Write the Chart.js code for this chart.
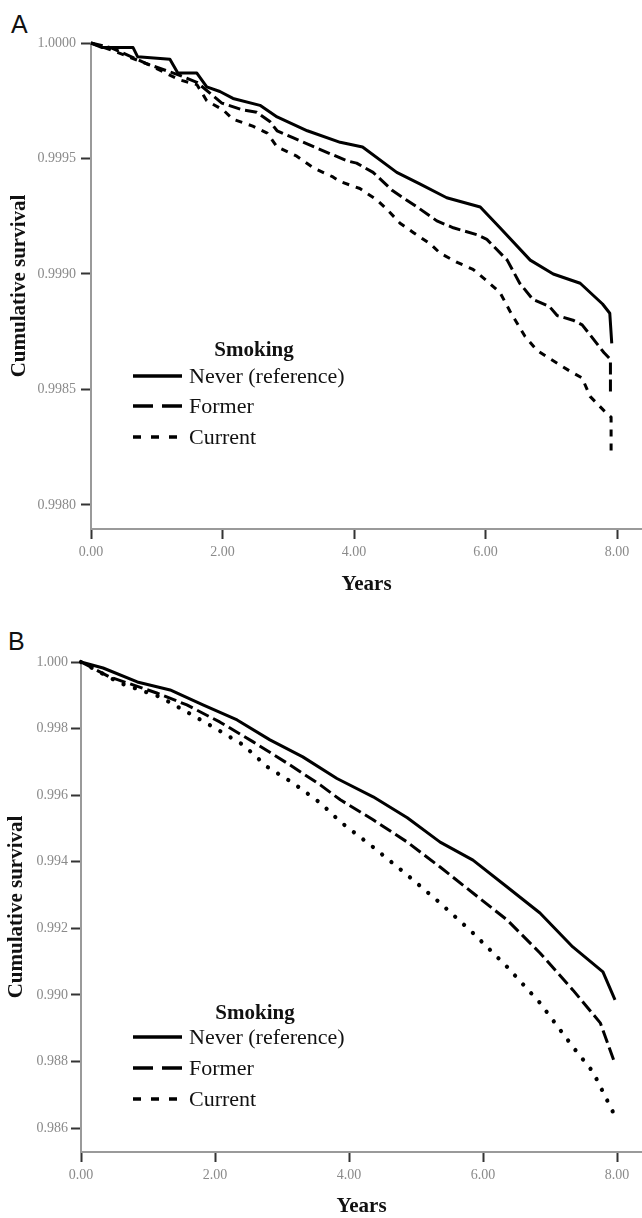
<!DOCTYPE html>
<html>
<head>
<meta charset="utf-8">
<script src="https://cdn.jsdelivr.net/npm/chart.js@4/dist/chart.umd.min.js"></script>
<style>
  html, body { margin:0; padding:0; background:#fff; }
  body { width:642px; height:1218px; position:relative; overflow:hidden; font-family:"Liberation Serif","Times New Roman",serif; }
  .panel { position:absolute; left:0; width:642px; }
  .plabel { position:absolute; font-family:"Liberation Sans",Arial,sans-serif; font-size:25px; line-height:25px; color:#111; }
  .legend { position:absolute; color:#111; }
  .legend .ttl { position:absolute; font-weight:bold; font-size:21px; line-height:21px; white-space:nowrap; transform:translate(-50%,-50%); }
  .legend .row { position:absolute; white-space:nowrap; font-size:22px; line-height:22px; transform:translateY(-50%); }
  .legend svg { position:absolute; overflow:visible; }
</style>
</head>
<body>
<div class="plabel" style="left:11px;top:12px;">A</div>
<div class="plabel" style="left:8px;top:629px;">B</div>
<div class="panel" style="top:0;height:600px;"><canvas id="cA" width="642" height="600"></canvas></div>
<div class="panel" style="top:600px;height:618px;"><canvas id="cB" width="642" height="618"></canvas></div>
<div id="legA" class="legend"></div>
<div id="legB" class="legend"></div>
<script>
// ---------- DATA ----------
const seriesNames = ['Never (reference)', 'Former', 'Current'];
const legendTitle = 'Smoking';
const xTitle = 'Years';
const yTitle = 'Cumulative survival';
const xTickValues = [0, 2, 4, 6, 8];
const yTickValuesA = [1.0000, 0.9995, 0.9990, 0.9985, 0.9980];
const yTickValuesB = [1.000, 0.998, 0.996, 0.994, 0.992, 0.990, 0.988, 0.986];

// Panel A
const neverA_x = [0, 0.17, 0.64, 0.71, 1.20, 1.32, 1.61, 1.76, 1.96, 2.16, 2.57, 2.83, 3.29, 3.79, 4.13, 4.65, 5.00, 5.41, 5.92, 6.22, 6.68, 7.03, 7.44, 7.78, 7.89, 7.92];
const neverA_y = [1.00000, 0.99998, 0.99998, 0.99994, 0.99993, 0.99987, 0.99987, 0.99981, 0.99979, 0.99976, 0.99973, 0.99968, 0.99962, 0.99957, 0.99955, 0.99944, 0.99939, 0.99933, 0.99929, 0.99920, 0.99906, 0.99900, 0.99896, 0.99887, 0.99883, 0.99870];
const formerA_x = [0, 0.30, 0.85, 1.35, 1.61, 1.99, 2.31, 2.52, 2.72, 2.83, 3.07, 3.48, 3.89, 4.04, 4.29, 4.59, 4.96, 5.26, 5.51, 5.87, 6.02, 6.33, 6.52, 6.72, 6.97, 7.09, 7.33, 7.47, 7.80, 7.90, 7.90];
const formerA_y = [1.00000, 0.99998, 0.99991, 0.99986, 0.99983, 0.99974, 0.99971, 0.99970, 0.99966, 0.99962, 0.99959, 0.99954, 0.99949, 0.99948, 0.99944, 0.99936, 0.99929, 0.99923, 0.99920, 0.99917, 0.99915, 0.99906, 0.99896, 0.99889, 0.99886, 0.99882, 0.99880, 0.99878, 0.99866, 0.99863, 0.99848];
const currentA_x = [0, 0.30, 0.85, 1.35, 1.61, 1.76, 2.01, 2.16, 2.46, 2.68, 2.83, 3.13, 3.38, 3.68, 3.79, 4.09, 4.35, 4.50, 4.70, 4.90, 5.16, 5.31, 5.57, 5.81, 6.02, 6.22, 6.37, 6.60, 6.78, 6.94, 7.28, 7.47, 7.59, 7.83, 7.91, 7.91];
const currentA_y = [1.00000, 0.99997, 0.99991, 0.99984, 0.99982, 0.99975, 0.99971, 0.99967, 0.99964, 0.99961, 0.99955, 0.99951, 0.99946, 0.99942, 0.99940, 0.99937, 0.99932, 0.99928, 0.99922, 0.99918, 0.99913, 0.99909, 0.99905, 0.99902, 0.99897, 0.99892, 0.99884, 0.99873, 0.99867, 0.99864, 0.99858, 0.99855, 0.99847, 0.99840, 0.99838, 0.99823];

// Panel B
const neverB_x = [0, 0.33, 0.84, 1.33, 1.82, 2.33, 2.82, 3.31, 3.82, 4.36, 4.87, 5.36, 5.85, 6.36, 6.85, 7.34, 7.79, 7.97];
const neverB_y = [1.00000, 0.99982, 0.99940, 0.99916, 0.99871, 0.99826, 0.99766, 0.99715, 0.99650, 0.99595, 0.99532, 0.99459, 0.99405, 0.99324, 0.99246, 0.99144, 0.99069, 0.98985];
const formerB_x = [0, 0.43, 1.13, 1.58, 2.07, 2.57, 3.07, 3.57, 3.87, 4.36, 4.87, 5.36, 5.85, 6.36, 6.85, 7.34, 7.75, 7.96];
const formerB_y = [1.00000, 0.99955, 0.99907, 0.99871, 0.99820, 0.99760, 0.99697, 0.99631, 0.99586, 0.99526, 0.99459, 0.99384, 0.99306, 0.99225, 0.99126, 0.99015, 0.98916, 0.98799];
const currentB_x = [0, 0.58, 1.18, 1.58, 1.97, 2.42, 2.78, 3.16, 3.57, 3.87, 4.36, 4.87, 5.36, 5.85, 6.36, 6.85, 7.34, 7.64, 7.96];
const currentB_y = [1.00000, 0.99937, 0.99895, 0.99850, 0.99805, 0.99751, 0.99685, 0.99637, 0.99577, 0.99520, 0.99444, 0.99360, 0.99276, 0.99186, 0.99084, 0.98976, 0.98844, 0.98769, 0.98640];

// ---------- CHART ----------
const SERIF = '"Liberation Serif","Times New Roman",serif';
const pts = (xs, ys) => xs.map((x, i) => ({x: x, y: ys[i]}));

function makeChart(id, cfg) {
  const ds = cfg.series.map((s, i) => ({
    label: seriesNames[i],
    data: pts(s[0], s[1]),
    borderColor: '#000',
    borderWidth: cfg.widths[i],
    borderDash: cfg.dashes[i],
    borderCapStyle: cfg.caps[i],
    borderJoinStyle: 'round',
    pointRadius: 0,
    tension: 0,
    fill: false,
    clip: 8
  }));
  return new Chart(document.getElementById(id), {
    type: 'line',
    data: { datasets: ds },
    options: {
      responsive: false,
      animation: false,
      events: [],
      layout: { padding: { top: cfg.top, left: 0, right: 0, bottom: 0 } },
      plugins: { legend: { display: false }, tooltip: { enabled: false } },
      scales: {
        x: {
          type: 'linear',
          min: 0, max: cfg.xmax,
          afterBuildTicks: s => { s.ticks = xTickValues.map(v => ({value: v})); },
          afterFit: s => { s.height = cfg.xh; },
          ticks: { callback: v => Number(v).toFixed(2), color: '#8a8a8a', font: { family: SERIF, size: 14 }, padding: 5, maxRotation: 0, autoSkip: false },
          grid: { drawOnChartArea: false, drawTicks: true, tickLength: 10, tickColor: '#333', tickWidth: 2 },
          border: { display: true, color: '#9a9a9a', width: 2 },
          title: { display: true, text: xTitle, color: '#111', font: { family: SERIF, size: 21, weight: 'bold', lineHeight: 1.0 }, padding: { top: 0, bottom: cfg.xtPad } }
        },
        y: {
          type: 'linear',
          min: cfg.ymin, max: cfg.ymax,
          afterBuildTicks: s => { s.ticks = cfg.yTicks.map(v => ({value: v})); },
          afterFit: s => { s.width = cfg.yw; },
          ticks: { callback: v => Number(v).toFixed(cfg.ydec), color: '#8a8a8a', font: { family: SERIF, size: 14 }, padding: cfg.ytickPad, autoSkip: false },
          grid: { drawOnChartArea: false, drawTicks: true, tickLength: 10, tickColor: '#333', tickWidth: 2 },
          border: { display: true, color: '#9a9a9a', width: 2 },
          title: { display: true, text: yTitle, color: '#111', font: { family: SERIF, size: 21, weight: 'bold', lineHeight: 1.0 }, padding: { top: cfg.ytPad, bottom: 0 } }
        }
      }
    }
  });
}

makeChart('cA', {
  series: [[neverA_x, neverA_y], [formerA_x, formerA_y], [currentA_x, currentA_y]],
  dashes: [[], [12, 5], [7, 7]],
  caps: ['butt', 'butt', 'butt'],
  widths: [3, 3, 3],
  top: 43, xh: 71, yw: 91, xmax: 8.38, ymin: 0.997896, ymax: 1.0,
  yTicks: yTickValuesA, ydec: 4, ytickPad: 5, xtPad: 5, ytPad: 9
});
makeChart('cB', {
  series: [[neverB_x, neverB_y], [formerB_x, formerB_y], [currentB_x, currentB_y]],
  dashes: [[], [13, 5], [0.1, 11.9]],
  caps: ['butt', 'butt', 'round'],
  widths: [3, 3, 4.2],
  top: 62, xh: 66, yw: 81, xmax: 8.373, ymin: 0.98528, ymax: 1.0,
  yTicks: yTickValuesB, ydec: 3, ytickPad: 3, xtPad: 1, ytPad: 6
});

// ---------- LEGENDS (HTML) ----------
function buildLegend(id, titleX, titleY, rowsY, lineX0, lineX1, textX) {
  const el = document.getElementById(id);
  const legendDashes = ['', '20 9', '8 10'];
  let html = '<div class="ttl" style="left:' + titleX + 'px;top:' + titleY + 'px;">' + legendTitle + '</div>';
  seriesNames.forEach((name, i) => {
    const y = rowsY[i];
    html += '<svg width="' + (lineX1 - lineX0) + '" height="4" style="left:' + lineX0 + 'px;top:' + (y - 2) + 'px;">' +
      '<line x1="0" y1="2" x2="' + (lineX1 - lineX0) + '" y2="2" stroke="#000" stroke-width="3.5"' +
      (legendDashes[i] ? ' stroke-dasharray="' + legendDashes[i] + '"' : '') + '/></svg>';
    html += '<div class="row" style="left:' + textX + 'px;top:' + y + 'px;">' + name + '</div>';
  });
  el.innerHTML = html;
}
buildLegend('legA', 254, 349, [376, 406, 437], 133, 182, 189);
buildLegend('legB', 255, 1012, [1037, 1068, 1099], 133, 182, 189);
</script>
</body>
</html>
